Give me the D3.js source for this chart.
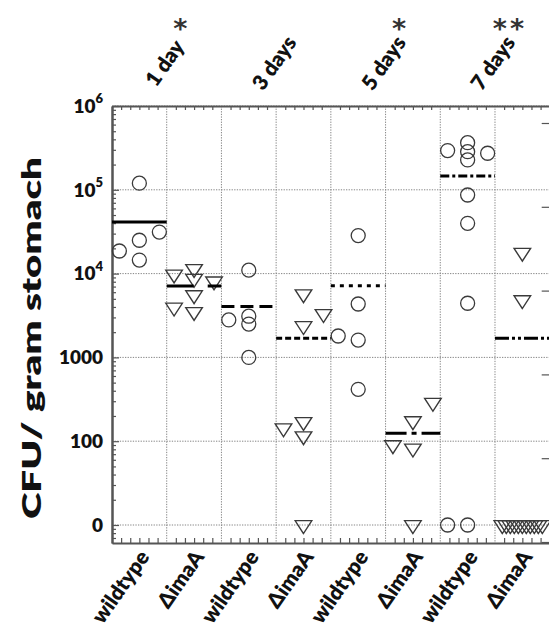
<!DOCTYPE html>
<html><head><meta charset="utf-8">
<script src="https://cdn.jsdelivr.net/npm/d3@7"></script>
<style>body{margin:0;background:#fff} svg{display:block}</style>
</head><body>
<svg id="chart" width="549" height="638"></svg>
<script>
// ---------- data ----------
const days = ["1 day", "3 days", "5 days", "7 days"];
const strains = ["wildtype", "ΔimaA"];
const stars = ["*", "", "*", "**"];
const yTickValues = [10, 100, 1000, 1e4, 1e5, 1e6];
const yTickLabels = ["0", "100", "1000", "10|4", "10|5", "10|6"];

// CFU / gram stomach for each mouse (0 = below detection, drawn on the "0" line)
const wt1 = [120000, 31300, 25000, 18600, 14500];
const ko1 = [9800, 11400, 8700, 8100, 5550, 3940, 3500];
const wt3 = [11000, 2800, 3100, 2500, 1000];
const ko3 = [5700, 3300, 2370, 143, 170, 115, 0];
const wt5 = [28400, 4340, 1800, 1610, 416];
const ko5 = [90, 174, 82, 288, 0];
const wt7 = [294000, 365000, 285000, 227000, 273000, 86700, 39800, 4430, 0, 0];
const ko7 = [17800, 4840, 0, 0, 0, 0, 0, 0, 0, 0, 0, 0, 0];
// group means (horizontal bars)
const means = [41300, 7100, 4050, 1690, 7180, 124, 146000, 1690];
// scatter slot of every point inside its column (-1 left .. 0 centre .. 1 right)
const slotWt1 = [0, 1, 0, -1, 0];
const slotKo1 = [-1, 0, 0, 1, 0, -1, 0];
const slotWt3 = [0, -1, 0, 0, 0];
const slotKo3 = [0, 1, 0, -1, 0, 0, 0];
const slotWt5 = [0, 0, -1, 0, 0];
const slotKo5 = [-1, 0, 0, 1, 0];
const slotWt7 = [-1, 0, 0, 0, 1, 0, 0, 0, -1, 0];
const slotKo7 = [0, 0, -1, -0.8, -0.6, -0.4, -0.2, 0, 0.2, 0.4, 0.6, 0.8, 1];

const groupValues = [wt1, ko1, wt3, ko3, wt5, ko5, wt7, ko7];
const groupSlots = [slotWt1, slotKo1, slotWt3, slotKo3, slotWt5, slotKo5, slotWt7, slotKo7];

// ---------- layout ----------
const L = 112, R = 549.7, T = 106, B = 543;
const FONT = "Lato, 'Open Sans', sans-serif";
const meanDash = [null, "27,14", "13,6", "6,3", "4,5", "21,5,5,5", "9,3,3,3", "14,3,3,3,3,3"];

const svg = d3.select("#chart");
const x = d3.scaleBand().domain(d3.range(8)).range([L, R]).padding(0);
const y = d3.scaleLog().domain([Math.pow(10, 1 - (B - 525) / 83.8), 1e6]).range([B, T]);
const yv = v => y(v <= 0 ? 10 : v);
const slotStep = 20;

// gridlines
const grid = svg.append("g").attr("stroke", "#858585").attr("stroke-width", 1)
  .attr("stroke-dasharray", "1.3,1.3");
grid.selectAll("line.h").data(yTickValues).join("line")
  .attr("x1", L).attr("x2", R).attr("y1", d => y(d)).attr("y2", d => y(d));
grid.selectAll("line.v").data(d3.range(1, 8)).join("line")
  .attr("x1", d => x(d)).attr("x2", d => x(d)).attr("y1", T).attr("y2", B);

// left axis (ticks pointing inward)
const allTicks = y.ticks();
const isMajor = v => Math.abs(Math.log10(v) - Math.round(Math.log10(v))) < 1e-9;
const minorTicks = allTicks.filter(v => !isMajor(v));
const majorTicks = allTicks.filter(isMajor);

function styleAxis(g) {
  g.selectAll("path.domain").attr("stroke", "#555").attr("stroke-width", 2);
  g.selectAll(".tick line").attr("stroke", "#555").attr("stroke-width", 1.2);
}
svg.append("g").attr("transform", `translate(${L},0)`)
  .call(d3.axisRight(y).tickValues(minorTicks).tickSize(4).tickSizeOuter(0).tickFormat(""))
  .call(styleAxis);
svg.append("g").attr("transform", `translate(${L},0)`)
  .call(d3.axisRight(y).tickValues(majorTicks).tickSize(7).tickSizeOuter(0).tickFormat(""))
  .call(styleAxis);

// right axis (shifted log axis of the neighbouring panel, ticks pointing left)
const yR = y.copy().range([B + 17, T + 17]);
const rightG = svg.append("g").attr("transform", `translate(${R},0)`);
rightG.call(d3.axisLeft(yR).tickValues(yR.ticks().filter(v => !isMajor(v) && yR(v) > T && yR(v) < B)).tickSize(4).tickSizeOuter(0).tickFormat(""));
rightG.call(d3.axisLeft(yR).tickValues(yR.ticks().filter(v => isMajor(v) && yR(v) > T && yR(v) < B)).tickSize(8).tickSizeOuter(0).tickFormat(""));
rightG.selectAll("path.domain").remove();
rightG.selectAll(".tick line").attr("stroke", "#555").attr("stroke-width", 1.2);

// top & bottom axes with small ticks
const xs = d3.scaleLinear().domain([0, 48]).range([L, R]);
const subTicks = d3.range(0, 49).filter(i => i % 6 !== 0);
svg.append("g").attr("transform", `translate(0,${T})`)
  .call(d3.axisBottom(xs).tickValues(subTicks).tickSize(4).tickSizeOuter(0).tickFormat(""))
  .call(styleAxis);
svg.append("g").attr("transform", `translate(0,${B})`)
  .call(d3.axisTop(xs).tickValues(subTicks).tickSize(5).tickSizeOuter(0).tickFormat(""))
  .call(styleAxis);

// y tick labels
const labG = svg.append("g").attr("font-family", FONT).attr("font-weight", 800)
  .attr("font-size", 19).attr("fill", "#111").attr("text-anchor", "end");
yTickValues.forEach((v, i) => {
  const lab = yTickLabels[i];
  const t = labG.append("text").attr("x", L - 9).attr("y", y(v)).attr("dy", "0.36em");
  if (lab.includes("|")) {
    const [base, exp] = lab.split("|");
    t.append("tspan").text(base);
    t.append("tspan").attr("font-size", 13).attr("dy", "-0.75em").text(exp);
  } else t.text(lab);
});

// y title
svg.append("text").attr("transform", `translate(41,338) rotate(-90)`)
  .attr("text-anchor", "middle").attr("font-family", FONT).attr("font-weight", 800)
  .attr("font-size", 27).attr("fill", "#111")
  .attr("textLength", 362).attr("lengthAdjust", "spacingAndGlyphs")
  .text("CFU/ gram stomach");

// points
const pts = svg.append("g").attr("fill", "none").attr("stroke", "#3a3a3a").attr("stroke-width", 1.3);
const tri = d3.symbol().type(d3.symbolTriangle).size(95);
groupValues.forEach((vals, g) => {
  const cx = x(g) + x.bandwidth() / 2;
  const data = vals.map((v, i) => ({ v, s: groupSlots[g][i] }));
  if (g % 2 === 0) {
    pts.selectAll(null).data(data).join("circle")
      .attr("cx", d => cx + d.s * slotStep).attr("cy", d => yv(d.v)).attr("r", 7);
  } else {
    pts.selectAll(null).data(data).join("path")
      .attr("d", tri)
      .attr("transform", d => `translate(${cx + d.s * slotStep},${yv(d.v)}) rotate(180) scale(1.12,1)`);
  }
});

// mean bars
svg.append("g").selectAll("line").data(means).join("line")
  .attr("x1", (d, i) => x(i)).attr("x2", (d, i) => x(i) + x.bandwidth())
  .attr("y1", d => yv(d)).attr("y2", d => yv(d))
  .attr("stroke", "#000").attr("stroke-width", 3)
  .attr("stroke-dasharray", (d, i) => meanDash[i]);

// bottom labels
svg.append("g").selectAll("text").data(groupValues).join("text")
  .attr("transform", (d, i) => `translate(${x(i) + x.bandwidth() / 2 + 11},${B + 14}) rotate(-55)`)
  .attr("text-anchor", "end").attr("font-family", FONT).attr("font-weight", 800)
  .attr("font-size", 21).attr("fill", "#111")
  .text((d, i) => strains[i % 2]);

// top day labels
svg.append("g").selectAll("text").data(days).join("text")
  .attr("transform", (d, i) => `translate(${x(2 * i + 1) - 2},${63}) rotate(-55)`)
  .attr("text-anchor", "middle").attr("dy", "0.35em").attr("font-family", FONT).attr("font-weight", 800)
  .attr("font-size", 21).attr("fill", "#111").text(d => d);

// significance stars
svg.append("g").selectAll("text").data(stars).join("text")
  .attr("x", (d, i) => x(2 * i + 1) + 15).attr("y", 38)
  .attr("text-anchor", "middle").attr("font-family", "'DejaVu Sans', sans-serif").attr("font-weight", 700)
  .attr("font-size", 27).attr("letter-spacing", 3).attr("fill", "#333").text(d => d);
</script>
</body></html>
